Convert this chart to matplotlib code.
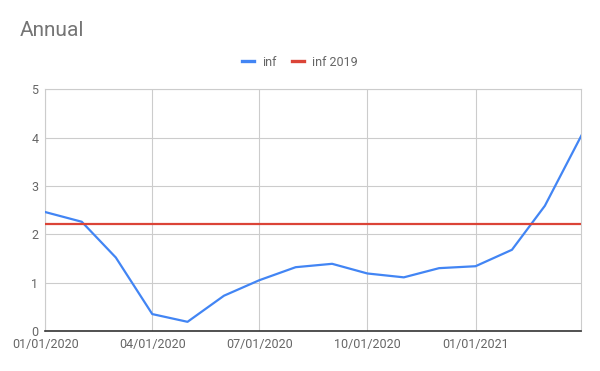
import matplotlib
matplotlib.use("Agg")
import matplotlib.pyplot as plt
import datetime as dt

# monthly values, Jan 2020 .. Apr 2021
months = [dt.date(2020 + (m // 12), m % 12 + 1, 1) for m in range(16)]
inf = [2.46, 2.26, 1.52, 0.35, 0.19, 0.73, 1.05, 1.32,
       1.39, 1.19, 1.11, 1.30, 1.34, 1.68, 2.59, 4.04]
inf_2019 = [2.22] * len(months)

tick_dates = [dt.date(2020, 1, 1), dt.date(2020, 4, 1), dt.date(2020, 7, 1),
              dt.date(2020, 10, 1), dt.date(2021, 1, 1)]
tick_labels = ["01/01/2020", "04/01/2020", "07/01/2020", "10/01/2020", "01/01/2021"]

plt.rcParams['font.family'] = ['Roboto', 'DejaVu Sans']

fig = plt.figure(figsize=(6, 3.71), dpi=100)
ax = fig.add_axes([45.3 / 600, 40 / 371, 536 / 600, 241.7 / 371])

ax.plot(months, inf, color="#4285F4", lw=1.6, label="inf", zorder=3)
ax.plot(months, inf_2019, color="#DB4437", lw=1.6, label="inf 2019", zorder=3)

ax.set_xlim(months[0], months[-1])
ax.set_ylim(0, 5)
ax.set_yticks(range(6))
ax.set_xticks(tick_dates)
ax.set_xticklabels(tick_labels)
ax.grid(True, color="#cccccc", lw=0.8)
ax.set_axisbelow(True)

for s in ["top", "left", "right"]:
    ax.spines[s].set_color("#cccccc")
    ax.spines[s].set_linewidth(0.8)
ax.spines["bottom"].set_color("#333333")
ax.spines["bottom"].set_linewidth(1.2)
ax.tick_params(length=0, labelsize=9, labelcolor="#666666", pad=5)

fig.text(20 / 600, 1 - 31 / 371, "Annual", fontsize=15, color="#757575",
         va="center", ha="left")

fig.legend(loc="center", bbox_to_anchor=(0.5, 1 - 62 / 371), ncol=2,
           frameon=False, fontsize=9, handlelength=0.95, handletextpad=0.7,
           columnspacing=1.2, labelcolor="#666666")
for h in fig.legends[0].get_lines():
    h.set_linewidth(2.4)

fig.savefig("out.png", dpi=100)
